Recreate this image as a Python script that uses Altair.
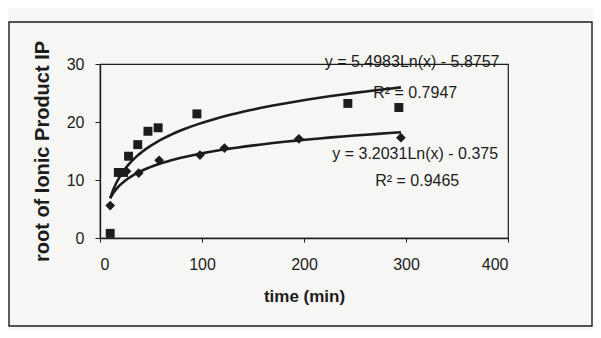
import altair as alt
import pandas as pd

# --- data ---
sq_x = [10, 18, 23, 28, 37, 47, 57, 95, 243, 293]
sq_y = [0.8, 11.3, 11.3, 14.1, 16.1, 18.4, 19.0, 21.4, 23.2, 22.5]
dm_x = [10, 26, 38, 58, 98, 122, 195, 295]
dm_y = [5.6, 11.5, 11.2, 13.4, 14.3, 15.5, 17.1, 17.3]

x_ticks = [0, 100, 200, 300, 400]
y_ticks = [0, 10, 20, 30]

ann_text = ["y = 5.4983Ln(x) - 5.8757", "R² = 0.7947",
            "y = 3.2031Ln(x) - 0.375", "R² = 0.9465"]
ann_x = [306, 309, 309, 311]
ann_y = [30.3, 25.0, 14.4, 9.8]

INK = "#1c1c1c"
FONT = "Liberation Sans"

sq = pd.DataFrame({"x": sq_x, "y": sq_y, "series": "square"})
dm = pd.DataFrame({"x": dm_x, "y": dm_y, "series": "diamond"})
pts = pd.concat([sq, dm], ignore_index=True)
ann = pd.DataFrame({"x": ann_x, "y": ann_y, "label": ann_text})

xs = alt.Scale(domain=[0, 400], nice=False)
ys = alt.Scale(domain=[0, 30], nice=False)

xax = alt.Axis(values=x_ticks, title="time (min)", grid=False, tickSize=4,
               labelPadding=14, titlePadding=16, labelFontSize=16,
               titleFontSize=17, titleFontWeight="bold", labelFont=FONT,
               titleFont=FONT, domainColor=INK, domainWidth=1.6,
               tickColor=INK, labelColor=INK, titleColor=INK)
yax = alt.Axis(values=y_ticks, title="root of Ionic Product IP", grid=False,
               tickSize=5, labelPadding=11, titlePadding=14, labelFontSize=16,
               titleFontSize=20, titleFontWeight="bold", labelFont=FONT,
               titleFont=FONT, domainColor=INK, domainWidth=1.4,
               tickColor=INK, labelColor=INK, titleColor=INK)

base = alt.Chart(pts)

frame = alt.Chart(pd.DataFrame({"k": [0]})).mark_rect(
    fill=None, stroke=INK, strokeWidth=1.4
).encode(x=alt.value(-91), x2=alt.value(492), y=alt.value(-42), y2=alt.value(262))

trend = base.transform_regression(
    "x", "y", method="log", extent=[10, 295], groupby=["series"]
).mark_line(color=INK, strokeWidth=2.6).encode(
    x=alt.X("x:Q", scale=xs, axis=xax),
    y=alt.Y("y:Q", scale=ys, axis=yax),
    detail="series:N",
)

squares = alt.Chart(sq).mark_point(shape="square", filled=True, color=INK,
                                   size=80, opacity=1).encode(
    x=alt.X("x:Q", scale=xs), y=alt.Y("y:Q", scale=ys))

diamonds = alt.Chart(dm).mark_point(shape="diamond", filled=True, color=INK,
                                    size=95, opacity=1).encode(
    x=alt.X("x:Q", scale=xs), y=alt.Y("y:Q", scale=ys))

labels = alt.Chart(ann).mark_text(font=FONT, fontSize=16, color=INK,
                                  align="center", baseline="middle").encode(
    x=alt.X("x:Q", scale=xs), y=alt.Y("y:Q", scale=ys), text="label:N")

chart = alt.layer(frame, trend, squares, diamonds, labels).properties(
    width=408, height=174,
    autosize=alt.AutoSizeParams(type="none"),
    padding={"left": 92, "top": 56, "right": 85, "bottom": 92},
    background="#f6f6f4",
).configure_view(stroke=INK, strokeWidth=1.2)

chart.save("out.html", embed_options={"renderer": "svg", "actions": False})
